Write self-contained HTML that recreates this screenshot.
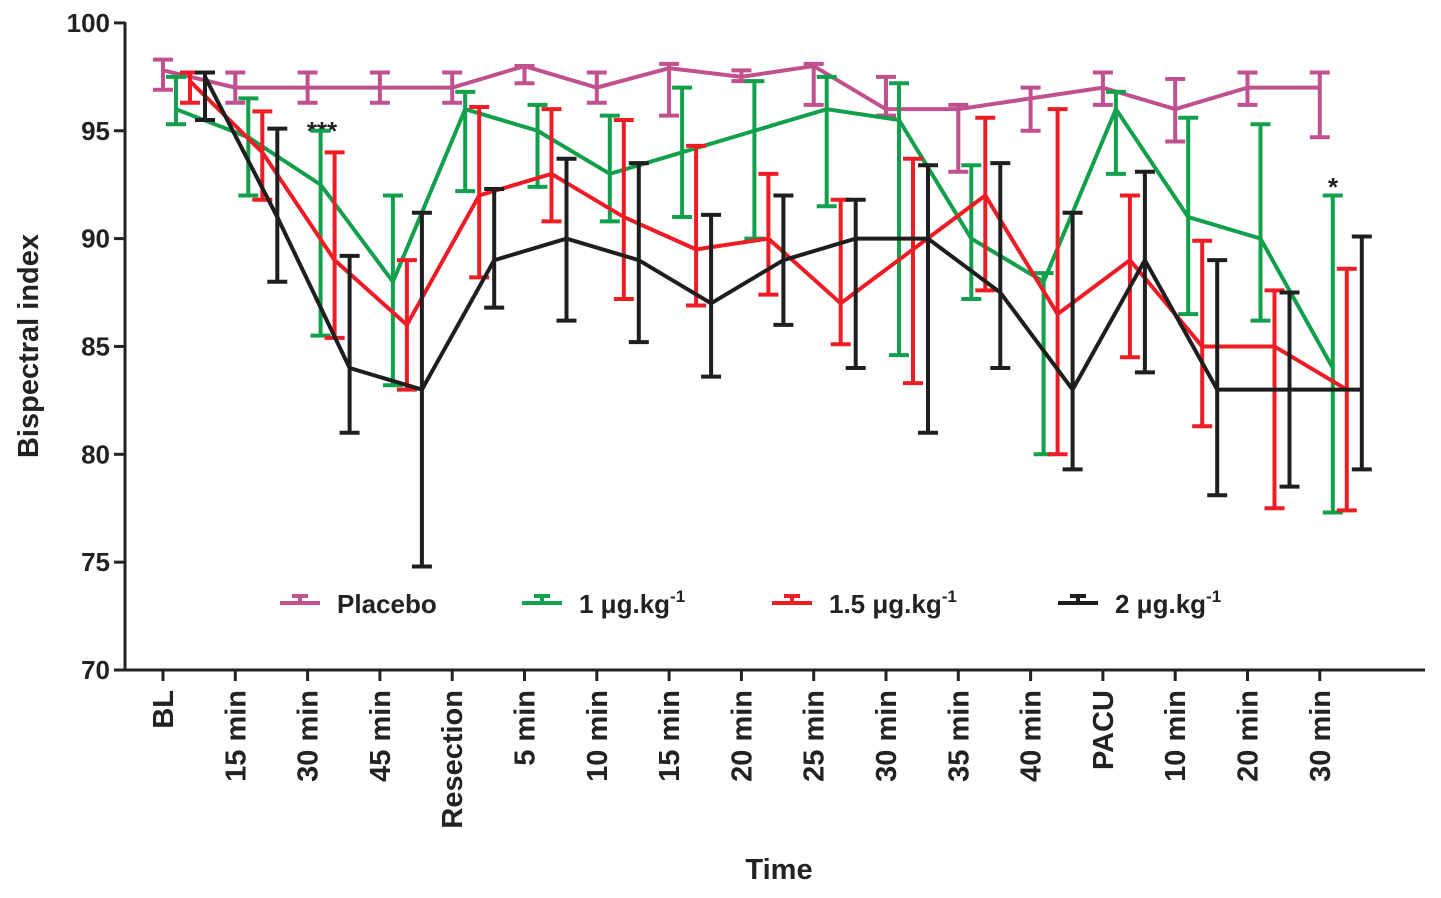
<!DOCTYPE html>
<html><head><meta charset="utf-8"><style>
body{margin:0;background:#fff;}
svg text{font-family:"Liberation Sans",sans-serif;font-weight:bold;fill:#222;}
</style></head><body>
<svg id="chart" width="1441" height="893">
<g id="axes"></g><g id="series"></g><g id="legend"></g>
</svg>
<script>
const categories=["BL","15 min","30 min","45 min","Resection","5 min","10 min","15 min","20 min","25 min","30 min","35 min","40 min","PACU","10 min","20 min","30 min"];
const yTicks=[70,75,80,85,90,95,100];
const placeboMean=[97.8,97,97,97,97,98,97,97.9,97.5,98,96,96,96.5,97,96,97,97];
const placeboLo=[96.9,96.3,96.3,96.3,96.3,97.2,96.3,95.7,97.3,96.2,95.7,93.1,95.0,96.2,94.5,96.2,94.7];
const placeboHi=[98.3,97.7,97.7,97.7,97.7,98.0,97.7,98.1,97.8,98.1,97.5,96.2,97.0,97.7,97.4,97.7,97.7];
const greenMean=[96,94.7,92.5,88,96,95,93,94,95,96,95.5,90,88,96,91,90,84];
const greenLo=[95.3,92,85.5,83.2,92.2,92.4,90.8,91,90,91.5,84.6,87.2,80,93,86.5,86.2,77.3];
const greenHi=[97.5,96.5,95,92,96.8,96.2,95.7,97,97.3,97.5,97.2,93.4,88.4,96.8,95.6,95.3,92];
const redMean=[97.3,94,89,86,92,93,91,89.5,90,87,89.5,92,86.5,89,85,85,83];
const redLo=[96.3,91.8,85.4,83,88.2,90.8,87.2,86.9,87.4,85.1,83.3,87.6,80,84.5,81.3,77.5,77.4];
const redHi=[97.7,95.9,94,89,96.1,96,95.5,94.3,93,91.8,93.7,95.6,96,92,89.9,87.6,88.6];
const blackMean=[97.5,91,84,83,89,90,89,87,89,90,90,87.5,83,89,83,83,83];
const blackLo=[95.5,88,81,74.8,86.8,86.2,85.2,83.6,86,84,81,84,79.3,83.8,78.1,78.5,79.3];
const blackHi=[97.7,95.1,89.2,91.2,92.3,93.7,93.5,91.1,92,91.8,93.4,93.5,91.2,93.1,89,87.5,90.1];
const seriesNames=["Placebo","1 μg.kg","1.5 μg.kg","2 μg.kg"];
const NS="http://www.w3.org/2000/svg";
const X0=163,DX=72.3,Y0=670,PPU=21.57;
const xs=(i,off)=>X0+i*DX+off;
const ys=v=>Y0-(v-70)*PPU;
function mk(tag,attrs,parent,txt){const e=document.createElementNS(NS,tag);for(const k in attrs)e.setAttribute(k,attrs[k]);if(txt!==undefined)e.textContent=txt;parent.appendChild(e);return e;}
const axes=document.getElementById('axes');
let a=mk('line',{x1:125,y1:22,x2:125,y2:671,stroke:'#222','stroke-width':3},axes);


a=mk('line',{x1:124,y1:670,x2:1425,y2:670,stroke:'#222','stroke-width':3},axes);


yTicks.forEach(v=>{
 mk('line',{x1:114,y1:ys(v),x2:125,y2:ys(v),stroke:'#222','stroke-width':3},axes);
 const t=mk('text',{x:110,y:ys(v)+9,'text-anchor':'end','font-size':26},axes,String(v));
 
 
});
categories.forEach((c,i)=>{
 const x=xs(i,0);
 mk('line',{x1:x,y1:670,x2:x,y2:681,stroke:'#222','stroke-width':3},axes);
 const t=mk('text',{x:0,y:0,'text-anchor':'end','font-size':29,transform:`translate(${x+10},690) rotate(-90)`},axes,c);
 
 
});
let t=mk('text',{x:0,y:0,'text-anchor':'middle','font-size':29,transform:'translate(38,346) rotate(-90)'},axes,'Bispectral index');


t=mk('text',{x:779,y:879,'text-anchor':'middle','font-size':29},axes,'Time');


t=mk('text',{x:322,y:140,'text-anchor':'middle','font-size':26},axes,'***');


t=mk('text',{x:1333,y:196,'text-anchor':'middle','font-size':26},axes,'*');



const series=[
 {name:'placebo',color:'#c0508e',off:0,m:placeboMean,lo:placeboLo,hi:placeboHi},
 {name:'1-ug',color:'#12a04c',off:13,m:greenMean,lo:greenLo,hi:greenHi},
 {name:'1-5-ug',color:'#ee1c25',off:27,m:redMean,lo:redLo,hi:redHi},
 {name:'2-ug',color:'#1e1e1e',off:42,m:blackMean,lo:blackLo,hi:blackHi}];
const sg=document.getElementById('series');
series.forEach(s=>{
 const g=mk('g',{},sg);
 
 
 s.m.forEach((v,i)=>{
  const x=xs(i,s.off);
  const e=mk('path',{d:`M${x},${ys(s.lo[i])}V${ys(s.hi[i])}M${x-10},${ys(s.lo[i])}h20M${x-10},${ys(s.hi[i])}h20`,stroke:s.color,'stroke-width':4,fill:'none'},g);
  
  
 });
 const l=mk('polyline',{points:s.m.map((v,i)=>xs(i,s.off)+','+ys(v)).join(' '),stroke:s.color,'stroke-width':4,fill:'none','stroke-linejoin':'miter'},g);
 
 
});
const lg=document.getElementById('legend');
const lx=[280,522,772,1058];
series.forEach((s,k)=>{
 const g=mk('g',{},lg);
 
 
 const x=lx[k];
 mk('path',{d:`M${x},603h40M${x+20},596v7M${x+12},596h16`,stroke:s.color,'stroke-width':4,fill:'none'},g);
 const tx=mk('text',{x:x+57,y:613,'font-size':26},g);
 tx.textContent=seriesNames[k];
 if(k>0){mk('tspan',{dy:-11,'font-size':17},tx,'-1');}
});
</script>
</body></html>
